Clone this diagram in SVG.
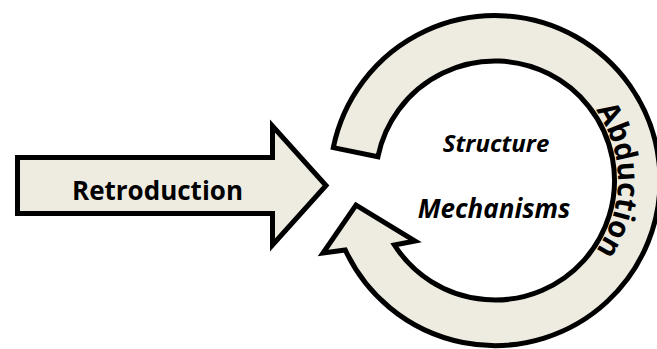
<svg xmlns="http://www.w3.org/2000/svg" width="657" height="349" viewBox="0 0 657 349">
  <style>
    .shape { fill: #EEECE1; stroke: #000; stroke-width: 5; stroke-linejoin: miter; stroke-miterlimit: 10; }
    .label { font-family: "Open Sans", "Liberation Sans", sans-serif; font-weight: bold; fill: #000; }
  </style>
  <defs>
    <path id="abductionPath" d="M 495,57.5 A 123 123 0 0 1 495,303.5"/>
  </defs>

  <g id="connectors">
    <!-- Retroduction block arrow -->
    <g id="retroduction">
      <path class="shape" d="M 17.5,157.5 L 272.5,157.5 L 272.5,126 L 326,185.5 L 272.5,245 L 272.5,213.5 L 17.5,213.5 Z"/>
      <text class="label" x="72" y="200" font-size="27" textLength="171" lengthAdjust="spacingAndGlyphs">Retroduction</text>
    </g>

    <!-- Abduction circular arrow -->
    <g id="abduction">
      <path class="shape" d="M 345.3,250 A 165 165 0 1 0 333.3,147.6 L 377.9,156.7 A 119.5 119.5 0 1 1 394.4,245 L 415,241 L 356,205 L 323,253 Z"/>
      <text class="label" font-size="30">
        <textPath href="#abductionPath" startOffset="50%" text-anchor="middle" textLength="150" lengthAdjust="spacingAndGlyphs">Abduction</textPath>
      </text>
    </g>
  </g>

  <g id="core">
    <text class="label" x="496" y="152" font-size="24" font-style="italic" text-anchor="middle">Structure</text>
    <text class="label" x="494" y="218" font-size="26" font-style="italic" text-anchor="middle">Mechanisms</text>
  </g>
</svg>
